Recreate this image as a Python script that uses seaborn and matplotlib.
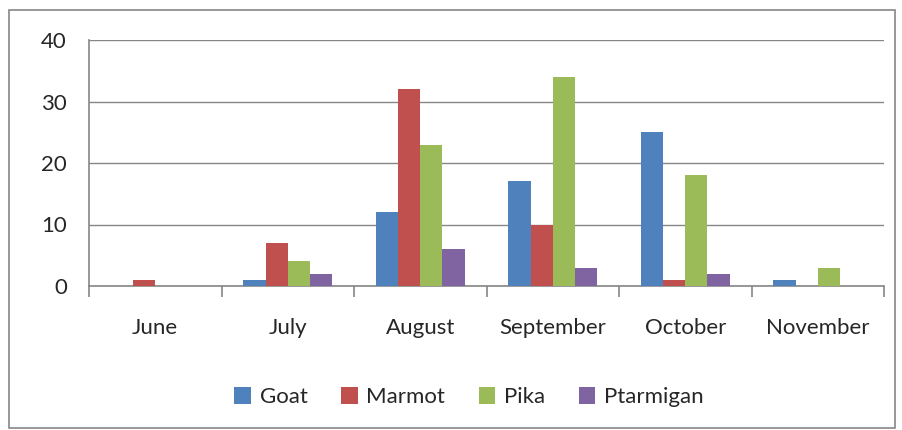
import pandas as pd
import seaborn as sns
import matplotlib.pyplot as plt
from matplotlib.patches import Rectangle

# Chart data
months = ["June", "July", "August", "September", "October", "November"]
species = ["Goat", "Marmot", "Pika", "Ptarmigan"]
goat = [0, 1, 12, 17, 25, 1]
marmot = [1, 7, 32, 10, 1, 0]
pika = [0, 4, 23, 34, 18, 3]
ptarmigan = [0, 2, 6, 3, 2, 0]
colors = ["#4F81BD", "#C0504D", "#9BBB59", "#8064A2"]

rows = []
for name, vals in zip(species, [goat, marmot, pika, ptarmigan]):
    for m, v in zip(months, vals):
        rows.append({"Month": m, "Species": name, "Count": v})
df = pd.DataFrame(rows)

sns.set_style("white")
plt.rcParams["font.family"] = ["Lato", "DejaVu Sans"]

fig = plt.figure(figsize=(9.02, 4.30), dpi=100)
ax = fig.add_axes([89 / 902, 1 - 286 / 430, (884 - 89) / 902, (286 - 40) / 430])

sns.barplot(data=df, x="Month", y="Count", hue="Species", order=months,
            hue_order=species, palette=colors, width=0.67, saturation=1,
            linewidth=0, ax=ax, zorder=3)

ax.set_ylim(0, 40)
ax.set_yticks([0, 10, 20, 30, 40])
ax.set_xlim(-0.5, len(months) - 0.5)
ax.yaxis.grid(True, color="#868686", linewidth=1.0, zorder=0)
ax.set_axisbelow(True)
for s in ["top", "right"]:
    ax.spines[s].set_visible(False)
for s in ["left", "bottom"]:
    ax.spines[s].set_color("#868686")
    ax.spines[s].set_linewidth(1.2)

ax.set_xlabel("")
ax.set_ylabel("")
ax.tick_params(axis="y", length=7, width=1.2, color="#868686", labelsize=16, pad=9)
ax.tick_params(axis="x", length=0, labelsize=16, pad=23)
# category separator ticks below the axis
ax.set_xticks([i - 0.5 for i in range(len(months) + 1)], minor=True)
ax.tick_params(axis="x", which="minor", length=8, width=1.2, color="#868686", bottom=True)

ax.legend(loc="upper center", bbox_to_anchor=(0.478, -0.33), ncol=4, frameon=False,
          fontsize=16, handlelength=0.75, handleheight=0.75, handletextpad=0.4,
          columnspacing=1.5)

fig.patches.append(Rectangle((9 / 902, 2 / 430), 886 / 902, 418 / 430,
                             transform=fig.transFigure, fill=False,
                             edgecolor="#868686", linewidth=1.2))

fig.savefig("out.png", dpi=100)
